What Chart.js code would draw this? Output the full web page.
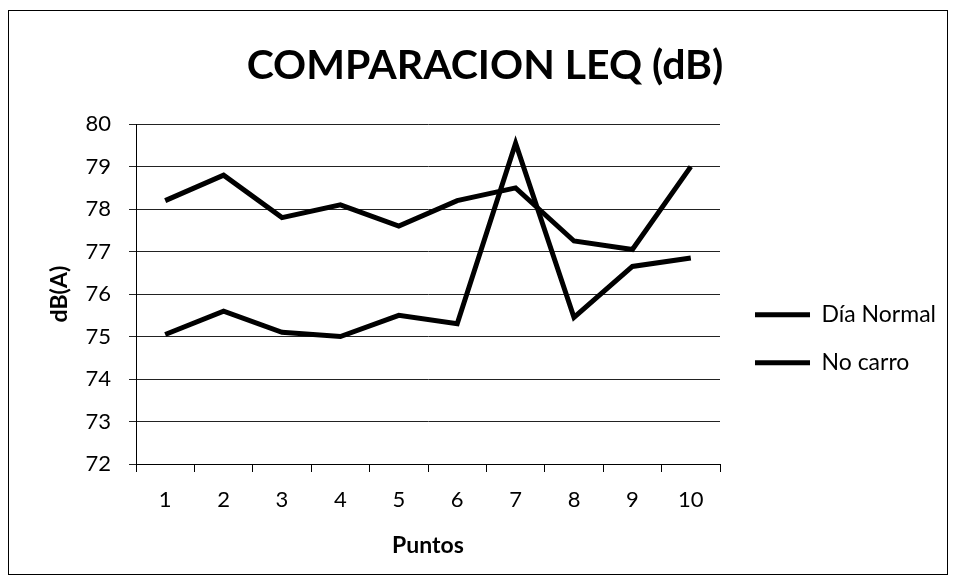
<!DOCTYPE html>
<html>
<head>
<meta charset="utf-8">
<script src="https://cdn.jsdelivr.net/npm/chart.js@4.4.1/dist/chart.umd.min.js"></script>
<style>
  body { margin: 0; background: #fff; }
  #box { position: absolute; left: 8px; top: 10px; width: 938px; height: 563px; border: 1px solid #000; }
</style>
</head>
<body>
<div id="box"><canvas id="leqChart"></canvas></div>
<script>
// Chart data
var puntos = ['1', '2', '3', '4', '5', '6', '7', '8', '9', '10'];
var diaNormal = [78.2, 78.8, 77.8, 78.1, 77.6, 78.2, 78.5, 77.25, 77.05, 79.0];
var noCarro = [75.05, 75.6, 75.1, 75.0, 75.5, 75.3, 79.55, 75.45, 76.65, 76.85];
var yMin = 72, yMax = 80, yStep = 1;

Chart.defaults.font.family = 'Lato, "Open Sans", sans-serif';
Chart.defaults.color = '#000';

var ctx = document.getElementById('leqChart').getContext('2d');
var leqChart = new Chart(ctx, {
  type: 'line',
  data: {
    labels: puntos,
    datasets: [{
      label: 'Día Normal',
      data: diaNormal,
      borderColor: '#000',
      backgroundColor: '#000',
      borderWidth: 5,
      pointRadius: 0,
      tension: 0
    }, {
      label: 'No carro',
      data: noCarro,
      borderColor: '#000',
      backgroundColor: '#000',
      borderWidth: 5,
      pointRadius: 0,
      tension: 0
    }]
  },
  options: {
    responsive: true,
    maintainAspectRatio: false,
    animation: false,
    layout: { padding: { left: 15, right: 1, top: 0, bottom: 0 } },
    plugins: {
      title: {
        display: true,
        text: 'COMPARACION LEQ (dB)',
        font: { size: 41, weight: 'bold' },
        padding: { top: 30, bottom: 34 }
      },
      legend: {
        position: 'right',
        // empty title only pushes the two entries down
        title: { display: true, text: '', font: { size: 12 }, padding: { top: 78, bottom: 0 } },
        labels: {
          usePointStyle: true,
          pointStyle: 'line',
          pointStyleWidth: 55,
          padding: 25,
          font: { size: 23 }
        }
      },
      tooltip: { enabled: false }
    },
    scales: {
      x: {
        offset: true,
        grid: { display: true, drawOnChartArea: false, drawTicks: true, tickLength: 8, offset: true, color: '#000' },
        border: { color: '#000' },
        ticks: { font: { size: 22 }, padding: 15 },
        title: { display: true, text: 'Puntos', font: { size: 23, weight: 'bold' }, padding: { top: 5, bottom: 15 } },
        afterFit: function (scale) { scale.height = 110; }
      },
      y: {
        min: yMin,
        max: yMax,
        ticks: { stepSize: yStep, font: { size: 22 }, padding: 18 },
        grid: { color: '#222', tickLength: 7 },
        border: { color: '#000' },
        title: { display: true, text: 'dB(A)', font: { size: 23, weight: 'bold' }, padding: { top: 22, bottom: 0 } },
        afterFit: function (scale) { scale.width = 112; }
      },
      // hidden spacer between plot and legend
      gap: {
        display: false,
        position: 'right',
        afterFit: function (scale) { scale.width = 10; }
      }
    }
  }
});
</script>
</body>
</html>
